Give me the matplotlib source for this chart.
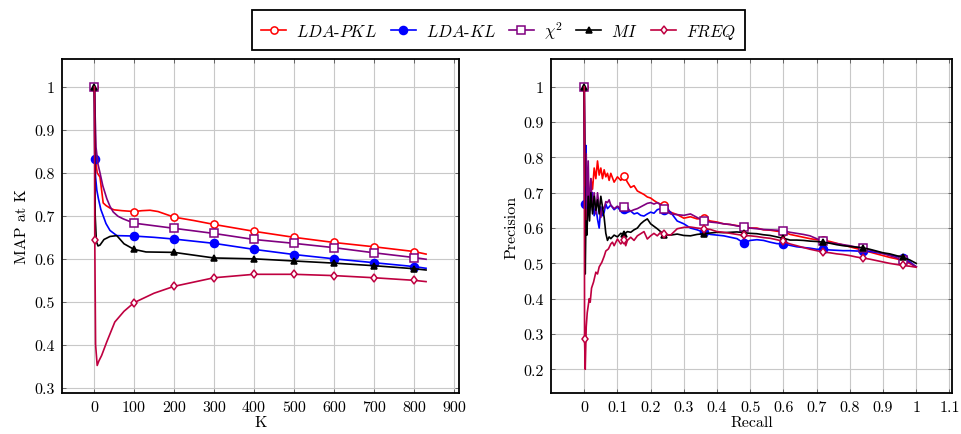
import numpy as np
import matplotlib
matplotlib.use('Agg')
import matplotlib.pyplot as plt
from matplotlib.ticker import FormatStrFormatter

plt.rcParams['font.family'] = 'serif'
plt.rcParams['font.serif'] = ['cmr10', 'DejaVu Serif']
plt.rcParams['mathtext.fontset'] = 'cm'
plt.rcParams['axes.formatter.use_mathtext'] = True
plt.rcParams['font.size'] = 11.5

## left plot: MAP at K
k_pkl = [1, 4, 8, 15, 19, 23, 30, 40, 50, 70, 100, 120, 140, 160, 200, 250, 300, 350, 400, 500, 600, 700, 800, 830]
map_pkl = [1.0, 0.83, 0.80, 0.79, 0.76, 0.73, 0.724, 0.718, 0.714, 0.712, 0.710, 0.712, 0.713, 0.710, 0.697, 0.689, 0.680, 0.672, 0.664, 0.650, 0.638, 0.628, 0.617, 0.611]

k_kl = [1, 2, 4, 7, 11, 17, 23, 30, 40, 57, 100, 150, 200, 300, 400, 500, 600, 700, 800, 830]
map_kl = [1.0, 0.833, 0.79, 0.76, 0.74, 0.715, 0.70, 0.682, 0.666, 0.654, 0.653, 0.650, 0.646, 0.636, 0.622, 0.610, 0.600, 0.591, 0.582, 0.578]

k_chi = [1, 5, 10, 15, 22, 32, 40, 48, 60, 73, 100, 150, 200, 300, 400, 500, 600, 700, 800, 830]
map_chi = [1.0, 0.86, 0.82, 0.80, 0.77, 0.74, 0.722, 0.709, 0.699, 0.693, 0.683, 0.677, 0.671, 0.659, 0.645, 0.636, 0.626, 0.614, 0.603, 0.599]

k_mi = [1, 3, 6, 10, 15, 25, 40, 57, 75, 100, 130, 200, 300, 400, 500, 600, 700, 800, 830]
map_mi = [1.0, 0.70, 0.64, 0.63, 0.632, 0.645, 0.652, 0.654, 0.635, 0.622, 0.616, 0.615, 0.602, 0.600, 0.595, 0.590, 0.584, 0.577, 0.574]

k_freq = [1, 2, 4, 8, 12, 19, 32, 52, 75, 100, 150, 200, 300, 400, 500, 600, 700, 800, 830]
map_freq = [1.0, 0.643, 0.40, 0.352, 0.362, 0.375, 0.407, 0.453, 0.478, 0.498, 0.520, 0.536, 0.556, 0.564, 0.564, 0.561, 0.556, 0.550, 0.547]

## right plot: precision / recall
r_pkl = [0, 0.002, 0.004, 0.008, 0.012, 0.016, 0.02, 0.025, 0.03, 0.035, 0.04, 0.045, 0.05, 0.055, 0.06, 0.065,
         0.07, 0.075, 0.08, 0.09, 0.10, 0.11, 0.12, 0.13, 0.14, 0.15, 0.16, 0.17, 0.18, 0.19, 0.20, 0.21, 0.22,
         0.23, 0.24, 0.26, 0.28, 0.30, 0.32, 0.34, 0.36, 0.38, 0.40, 0.42, 0.44, 0.46, 0.48, 0.50, 0.52, 0.54,
         0.56, 0.58, 0.60, 0.62, 0.64, 0.66, 0.68, 0.70, 0.72, 0.74, 0.76, 0.78, 0.80, 0.82, 0.84, 0.86, 0.88,
         0.90, 0.92, 0.94, 0.96, 0.98, 1.0]
p_pkl = [1.0, 0.60, 0.66, 0.62, 0.70, 0.66, 0.74, 0.71, 0.77, 0.74, 0.79, 0.75, 0.77, 0.74, 0.765, 0.745,
         0.755, 0.735, 0.755, 0.73, 0.745, 0.735, 0.748, 0.73, 0.715, 0.72, 0.705, 0.70, 0.695, 0.688, 0.685, 0.678, 0.672,
         0.668, 0.665, 0.645, 0.638, 0.628, 0.632, 0.626, 0.628, 0.620, 0.617, 0.612, 0.610, 0.607, 0.604, 0.600, 0.600, 0.595,
         0.594, 0.591, 0.590, 0.582, 0.578, 0.574, 0.570, 0.567, 0.565, 0.562, 0.557, 0.552, 0.547, 0.542, 0.537, 0.532, 0.527,
         0.522, 0.517, 0.513, 0.508, 0.500, 0.490]

r_kl = [0, 0.001, 0.003, 0.005, 0.007, 0.01, 0.013, 0.017, 0.02, 0.025, 0.03, 0.035, 0.04, 0.045, 0.05, 0.055,
        0.06, 0.065, 0.07, 0.08, 0.09, 0.10, 0.11, 0.12, 0.13, 0.14, 0.15, 0.16, 0.17, 0.18, 0.19, 0.20, 0.21,
        0.22, 0.23, 0.24, 0.26, 0.28, 0.30, 0.32, 0.34, 0.36, 0.38, 0.40, 0.42, 0.44, 0.46, 0.48, 0.50, 0.52,
        0.54, 0.56, 0.58, 0.60, 0.62, 0.64, 0.66, 0.68, 0.70, 0.72, 0.74, 0.76, 0.78, 0.80, 0.82, 0.84, 0.86,
        0.88, 0.90, 0.92, 0.94, 0.96, 0.98, 1.0]
p_kl = [1.0, 0.667, 0.80, 0.834, 0.70, 0.76, 0.64, 0.70, 0.66, 0.70, 0.635, 0.66, 0.625, 0.60, 0.66, 0.635,
        0.645, 0.668, 0.655, 0.665, 0.652, 0.660, 0.648, 0.655, 0.645, 0.648, 0.640, 0.643, 0.636, 0.634, 0.640, 0.645, 0.642,
        0.652, 0.655, 0.652, 0.645, 0.620, 0.612, 0.600, 0.595, 0.588, 0.582, 0.580, 0.578, 0.574, 0.570, 0.558, 0.565, 0.567,
        0.565, 0.560, 0.556, 0.555, 0.551, 0.547, 0.545, 0.543, 0.540, 0.540, 0.538, 0.537, 0.536, 0.536, 0.535, 0.535, 0.534,
        0.531, 0.528, 0.524, 0.520, 0.515, 0.505, 0.490]

r_chi = [0, 0.003, 0.006, 0.009, 0.012, 0.015, 0.02, 0.025, 0.03, 0.035, 0.04, 0.045, 0.05, 0.055, 0.06, 0.065,
         0.07, 0.075, 0.08, 0.09, 0.10, 0.11, 0.12, 0.13, 0.14, 0.15, 0.16, 0.17, 0.18, 0.19, 0.20, 0.21, 0.22,
         0.23, 0.24, 0.26, 0.28, 0.30, 0.32, 0.34, 0.36, 0.38, 0.40, 0.42, 0.44, 0.46, 0.48, 0.50, 0.52, 0.54,
         0.56, 0.58, 0.60, 0.62, 0.64, 0.66, 0.68, 0.70, 0.72, 0.74, 0.76, 0.78, 0.80, 0.82, 0.84, 0.86, 0.88,
         0.90, 0.92, 0.94, 0.96, 0.98, 1.0]
p_chi = [1.0, 0.72, 0.81, 0.62, 0.79, 0.64, 0.74, 0.65, 0.70, 0.64, 0.70, 0.66, 0.63, 0.66, 0.655, 0.675,
         0.672, 0.680, 0.665, 0.655, 0.662, 0.655, 0.659, 0.655, 0.648, 0.652, 0.655, 0.660, 0.665, 0.670, 0.672, 0.668, 0.672,
         0.666, 0.655, 0.640, 0.638, 0.636, 0.640, 0.630, 0.620, 0.617, 0.615, 0.612, 0.610, 0.606, 0.604, 0.600, 0.598, 0.596,
         0.595, 0.594, 0.592, 0.588, 0.585, 0.582, 0.578, 0.570, 0.562, 0.558, 0.556, 0.553, 0.550, 0.546, 0.543, 0.538, 0.533,
         0.528, 0.522, 0.516, 0.510, 0.502, 0.490]

r_mi = [0, 0.003, 0.005, 0.008, 0.012, 0.016, 0.02, 0.025, 0.03, 0.035, 0.04, 0.045, 0.05, 0.055, 0.06, 0.065,
        0.07, 0.075, 0.08, 0.09, 0.10, 0.11, 0.12, 0.13, 0.14, 0.15, 0.16, 0.17, 0.18, 0.19, 0.20, 0.21, 0.22,
        0.23, 0.24, 0.26, 0.28, 0.30, 0.32, 0.34, 0.36, 0.38, 0.40, 0.42, 0.44, 0.46, 0.48, 0.50, 0.52, 0.54,
        0.56, 0.58, 0.60, 0.62, 0.64, 0.66, 0.68, 0.70, 0.72, 0.74, 0.76, 0.78, 0.80, 0.82, 0.84, 0.86, 0.88,
        0.90, 0.92, 0.94, 0.96, 0.98, 1.0]
p_mi = [1.0, 0.47, 0.62, 0.58, 0.69, 0.62, 0.70, 0.64, 0.69, 0.65, 0.68, 0.64, 0.69, 0.66, 0.63, 0.585,
        0.565, 0.575, 0.570, 0.580, 0.575, 0.585, 0.582, 0.590, 0.588, 0.595, 0.600, 0.612, 0.620, 0.626, 0.612, 0.605, 0.598,
        0.590, 0.581, 0.580, 0.583, 0.579, 0.578, 0.582, 0.584, 0.586, 0.588, 0.587, 0.588, 0.589, 0.587, 0.585, 0.584, 0.581,
        0.579, 0.575, 0.571, 0.566, 0.566, 0.565, 0.563, 0.562, 0.560, 0.557, 0.553, 0.550, 0.548, 0.546, 0.544, 0.540, 0.535,
        0.530, 0.527, 0.522, 0.517, 0.510, 0.500]

r_freq = [0, 0.001, 0.003, 0.006, 0.009, 0.012, 0.015, 0.018, 0.022, 0.028, 0.035, 0.04, 0.045, 0.053, 0.06, 0.065,
          0.073, 0.08, 0.085, 0.09, 0.10, 0.11, 0.12, 0.125, 0.13, 0.14, 0.15, 0.16, 0.17, 0.18, 0.19, 0.20, 0.21,
          0.22, 0.23, 0.24, 0.26, 0.28, 0.30, 0.32, 0.34, 0.36, 0.38, 0.40, 0.42, 0.44, 0.46, 0.48, 0.50, 0.52,
          0.54, 0.56, 0.58, 0.60, 0.62, 0.64, 0.66, 0.68, 0.70, 0.72, 0.74, 0.76, 0.78, 0.80, 0.82, 0.84, 0.86,
          0.88, 0.90, 0.92, 0.94, 0.96, 0.98, 1.0]
p_freq = [1.0, 0.285, 0.20, 0.32, 0.36, 0.38, 0.40, 0.39, 0.43, 0.447, 0.475, 0.47, 0.49, 0.503, 0.52, 0.535,
          0.541, 0.555, 0.560, 0.550, 0.569, 0.555, 0.565, 0.550, 0.565, 0.574, 0.565, 0.578, 0.584, 0.590, 0.569, 0.578, 0.585,
          0.578, 0.588, 0.583, 0.580, 0.598, 0.602, 0.603, 0.600, 0.598, 0.596, 0.590, 0.588, 0.585, 0.582, 0.579, 0.578, 0.576,
          0.573, 0.571, 0.567, 0.562, 0.555, 0.550, 0.545, 0.540, 0.536, 0.532, 0.530, 0.527, 0.525, 0.522, 0.518, 0.515, 0.512,
          0.508, 0.504, 0.500, 0.497, 0.494, 0.492, 0.489]

names = [r'$LDA$-$PKL$', r'$LDA$-$KL$', r'$\chi^2$', r'$MI$', r'$FREQ$']
colors = ['#ff0000', '#0000ff', '#800080', '#000000', '#bf0040']
markers = ['o', 'o', 's', '^', 'd']
faces = ['white', '#0000ff', 'white', '#000000', 'white']
msizes = [5.2, 5.8, 5.2, 5, 4.5]

left_data = [(k_pkl, map_pkl), (k_kl, map_kl), (k_chi, map_chi), (k_mi, map_mi), (k_freq, map_freq)]
right_data = [(r_pkl, p_pkl), (r_kl, p_kl), (r_chi, p_chi), (r_mi, p_mi), (r_freq, p_freq)]
first_mark = [0, 1, 0, 0, 1]


def left_marks(k, i):
    idx = [first_mark[i]]
    for kk in range(100, 900, 100):
        if kk in k:
            idx.append(k.index(kk))
    return idx


def right_marks(r, i):
    idx = [first_mark[i]]
    r = np.array(r)
    for rr in np.arange(0.12, 1.0, 0.12):
        idx.append(int(np.argmin(np.abs(r - rr))))
    return idx


fig = plt.figure(figsize=(9.61, 4.35), dpi=100)
ax1 = fig.add_axes([0.0645, 0.0943, 0.413, 0.768])
ax2 = fig.add_axes([0.5734, 0.0943, 0.4173, 0.768])

handles = []
for i in range(5):
    k, m = left_data[i]
    h, = ax1.plot(k, m, color=colors[i], lw=1.2, marker=markers[i], ms=msizes[i],
                  mfc=faces[i], mec=colors[i], mew=1.1, markevery=left_marks(k, i), label=names[i])
    handles.append(h)
    r, p = right_data[i]
    ax2.plot(r, p, color=colors[i], lw=1.2, marker=markers[i], ms=msizes[i],
             mfc=faces[i], mec=colors[i], mew=1.1, markevery=right_marks(r, i))

ax1.set_xlim(-80, 912)
ax1.set_ylim(0.288, 1.065)
ax1.set_xticks(np.arange(0, 901, 100))
ax1.set_yticks(np.arange(0.3, 1.01, 0.1))
ax1.set_xlabel('K', labelpad=1)
ax1.set_ylabel('MAP at K', labelpad=4)

ax2.set_xlim(-0.1, 1.108)
ax2.set_ylim(0.133, 1.079)
ax2.set_xticks(np.arange(0, 1.11, 0.1))
ax2.set_yticks(np.arange(0.2, 1.01, 0.1))
ax2.set_xlabel('Recall', labelpad=1)
ax2.set_ylabel('Precision', labelpad=4)

for ax in (ax1, ax2):
    ax.grid(True, color='#c8c8c8', lw=0.8)
    ax.set_axisbelow(True)
    ax.xaxis.set_major_formatter(FormatStrFormatter('%g'))
    ax.yaxis.set_major_formatter(FormatStrFormatter('%g'))
    ax.tick_params(direction='in', length=3, width=0.6, color='#555555', top=True, right=True, pad=5)
    for s in ax.spines.values():
        s.set_linewidth(1.3)

leg = fig.legend(handles=handles, loc='center', bbox_to_anchor=(0.519, 0.929), ncol=5,
                 fancybox=False, edgecolor='black', framealpha=1, fontsize=12,
                 handlelength=1.5, columnspacing=0.8, handletextpad=0.6, borderpad=0.55)
leg.get_frame().set_linewidth(1.3)

fig.savefig('out.png', dpi=100)
